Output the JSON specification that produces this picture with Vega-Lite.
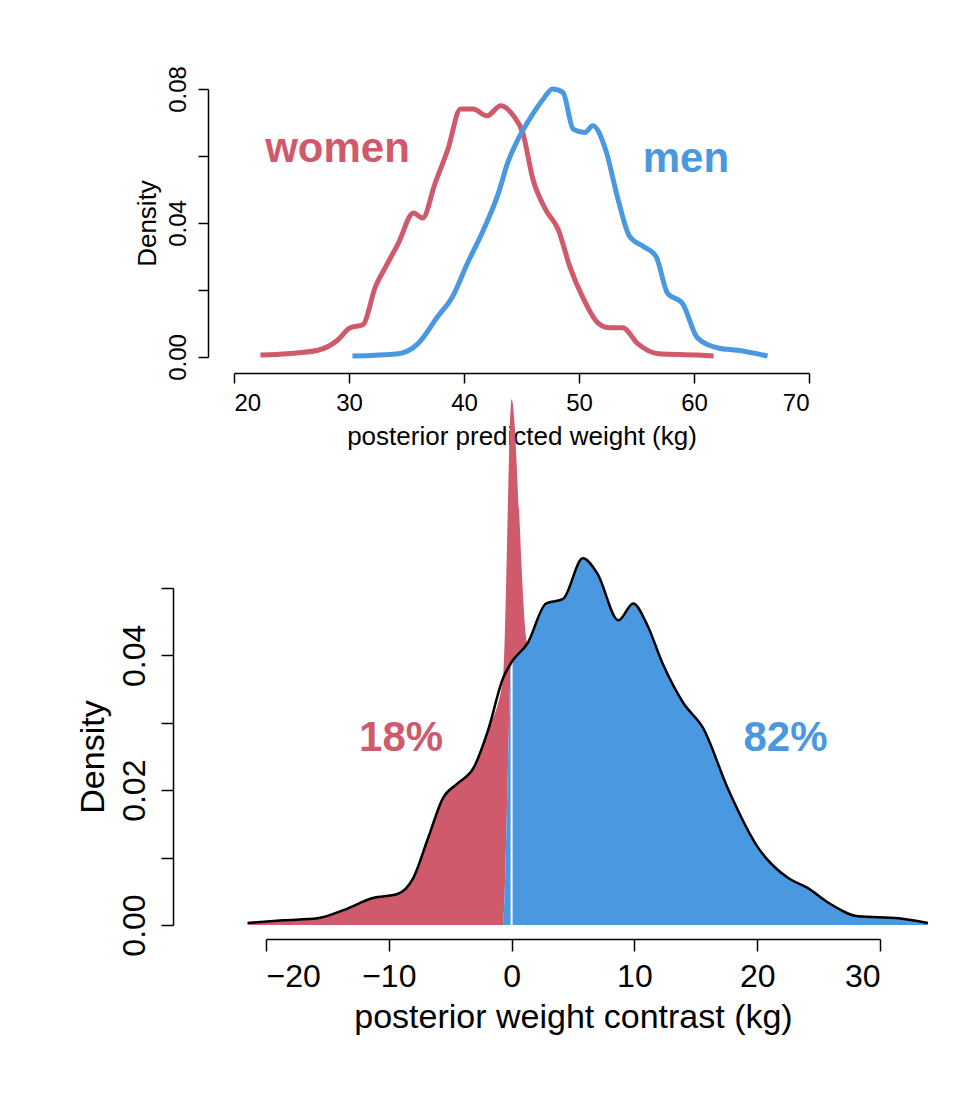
{
  "$schema": "https://vega.github.io/schema/vega-lite/v6.json",
  "padding": {"left": 76, "top": 65, "right": 5, "bottom": 5},
  "background": "white",
  "bounds": "flush",
  "spacing": 231,
  "config": {
    "font": "Liberation Sans",
    "view": {"stroke": null},
    "axis": {"grid": false, "domainColor": "black", "tickColor": "black", "labelColor": "black", "titleColor": "black", "titleFontWeight": "normal", "domainWidth": 1.5, "tickWidth": 1.5}
  },
  "datasets": {
    "top": [
      {"g": "women", "x": 22.3, "y": 0.0006}, {"g": "women", "x": 24.7, "y": 0.001}, {"g": "women", "x": 27.3, "y": 0.002},
      {"g": "women", "x": 29, "y": 0.005}, {"g": "women", "x": 30.1, "y": 0.0087}, {"g": "women", "x": 31.2, "y": 0.0096},
      {"g": "women", "x": 32.3, "y": 0.021}, {"g": "women", "x": 33.2, "y": 0.027}, {"g": "women", "x": 34.3, "y": 0.034},
      {"g": "women", "x": 35.6, "y": 0.043}, {"g": "women", "x": 36.4, "y": 0.0415}, {"g": "women", "x": 37.5, "y": 0.052},
      {"g": "women", "x": 38.6, "y": 0.062}, {"g": "women", "x": 39.7, "y": 0.074}, {"g": "women", "x": 40.8, "y": 0.074},
      {"g": "women", "x": 42, "y": 0.072}, {"g": "women", "x": 43.2, "y": 0.075}, {"g": "women", "x": 44.3, "y": 0.072},
      {"g": "women", "x": 45.1, "y": 0.067}, {"g": "women", "x": 46, "y": 0.053}, {"g": "women", "x": 47.1, "y": 0.044},
      {"g": "women", "x": 48.2, "y": 0.038}, {"g": "women", "x": 49.2, "y": 0.027}, {"g": "women", "x": 50.3, "y": 0.018},
      {"g": "women", "x": 51.7, "y": 0.01}, {"g": "women", "x": 52.7, "y": 0.0087}, {"g": "women", "x": 53.8, "y": 0.0087},
      {"g": "women", "x": 55.1, "y": 0.004}, {"g": "women", "x": 56.9, "y": 0.001}, {"g": "women", "x": 60.3, "y": 0.0006},
      {"g": "women", "x": 61.7, "y": 0.0003},
      {"g": "men", "x": 30.3, "y": 0.0003}, {"g": "men", "x": 34.3, "y": 0.001}, {"g": "men", "x": 36, "y": 0.004},
      {"g": "men", "x": 37.7, "y": 0.012}, {"g": "men", "x": 39, "y": 0.018}, {"g": "men", "x": 40.3, "y": 0.028},
      {"g": "men", "x": 41.7, "y": 0.038}, {"g": "men", "x": 43, "y": 0.049}, {"g": "men", "x": 43.8, "y": 0.058},
      {"g": "men", "x": 44.7, "y": 0.065}, {"g": "men", "x": 45.7, "y": 0.071}, {"g": "men", "x": 46.9, "y": 0.077},
      {"g": "men", "x": 47.7, "y": 0.08}, {"g": "men", "x": 48.6, "y": 0.079}, {"g": "men", "x": 49.5, "y": 0.068},
      {"g": "men", "x": 50.5, "y": 0.067}, {"g": "men", "x": 51.2, "y": 0.069}, {"g": "men", "x": 52.3, "y": 0.062},
      {"g": "men", "x": 53.4, "y": 0.047}, {"g": "men", "x": 54.4, "y": 0.036}, {"g": "men", "x": 55.6, "y": 0.033},
      {"g": "men", "x": 56.7, "y": 0.03}, {"g": "men", "x": 57.7, "y": 0.019}, {"g": "men", "x": 59, "y": 0.016},
      {"g": "men", "x": 60.3, "y": 0.0057}, {"g": "men", "x": 62.1, "y": 0.0027}, {"g": "men", "x": 63.8, "y": 0.002},
      {"g": "men", "x": 66.4, "y": 0.0003}
    ],
    "bottom": [
      {"side": "neg", "x": -21.5, "y": 0.0003}, {"side": "neg", "x": -18.6, "y": 0.0007}, {"side": "neg", "x": -15.8, "y": 0.001},
      {"side": "neg", "x": -13.7, "y": 0.0022}, {"side": "neg", "x": -11.3, "y": 0.004}, {"side": "neg", "x": -9.3, "y": 0.0046},
      {"side": "neg", "x": -8, "y": 0.007}, {"side": "neg", "x": -6.8, "y": 0.0129}, {"side": "neg", "x": -5.6, "y": 0.0188},
      {"side": "neg", "x": -4.4, "y": 0.021}, {"side": "neg", "x": -3.1, "y": 0.0233}, {"side": "neg", "x": -1.9, "y": 0.029},
      {"side": "neg", "x": -0.7, "y": 0.0366}, {"side": "neg", "x": 0, "y": 0.039},
      {"side": "pos", "x": 0, "y": 0.039}, {"side": "pos", "x": 1.3, "y": 0.0418}, {"side": "pos", "x": 2.8, "y": 0.0477},
      {"side": "pos", "x": 4.2, "y": 0.0484}, {"side": "pos", "x": 5.8, "y": 0.0544}, {"side": "pos", "x": 7, "y": 0.0521},
      {"side": "pos", "x": 8.7, "y": 0.0452}, {"side": "pos", "x": 9.9, "y": 0.0477}, {"side": "pos", "x": 11, "y": 0.0447},
      {"side": "pos", "x": 12.3, "y": 0.0388}, {"side": "pos", "x": 14, "y": 0.0329}, {"side": "pos", "x": 15.6, "y": 0.0292},
      {"side": "pos", "x": 17.6, "y": 0.0203}, {"side": "pos", "x": 20.1, "y": 0.0114}, {"side": "pos", "x": 22.5, "y": 0.007},
      {"side": "pos", "x": 24.1, "y": 0.0055}, {"side": "pos", "x": 25.8, "y": 0.0033}, {"side": "pos", "x": 28.2, "y": 0.0013},
      {"side": "pos", "x": 31.5, "y": 0.001}, {"side": "pos", "x": 33.9, "y": 0.0003}
    ],
    "toplabels": [
      {"t": "women", "x": 29, "y": 0.062, "g": "women"},
      {"t": "men", "x": 59.3, "y": 0.059, "g": "men"}
    ],
    "botlabels": [
      {"t": "18%", "x": -9, "y": 0.0277, "side": "neg"},
      {"t": "82%", "x": 22.3, "y": 0.0277, "side": "pos"}
    ]
  },
  "vconcat": [
    {
      "width": 614,
      "height": 268,
      "layer": [
        {
          "data": {"name": "top"},
          "mark": {"type": "line", "strokeWidth": 5, "interpolate": "monotone"},
          "encoding": {
            "x": {"field": "x", "type": "quantitative", "scale": {"domain": [20, 70], "range": [-32, 543], "nice": false},
              "axis": {"values": [20, 30, 40, 50, 60, 70], "title": "posterior predicted weight (kg)", "offset": 16, "labelFontSize": 24, "titleFontSize": 26, "tickSize": 10, "labelPadding": 8, "titlePadding": 8}},
            "y": {"field": "y", "type": "quantitative", "scale": {"domain": [0, 0.08], "nice": false},
              "axis": {"values": [0, 0.02, 0.04, 0.06, 0.08], "labelExpr": "datum.value == 0.02 || datum.value == 0.06 ? '' : format(datum.value, '.2f')", "title": "Density", "offset": 58, "labelAngle": -90, "labelAlign": "center", "labelBaseline": "bottom", "labelFontSize": 24, "titleFontSize": 26, "tickSize": 10, "labelPadding": 8, "titlePadding": 6}},
            "color": {"field": "g", "type": "nominal", "scale": {"domain": ["women", "men"], "range": ["#CF5A6B", "#4A98E0"]}, "legend": null}
          }
        },
        {
          "data": {"name": "toplabels"},
          "mark": {"type": "text", "fontSize": 42, "fontWeight": "bold"},
          "encoding": {
            "x": {"field": "x", "type": "quantitative"},
            "y": {"field": "y", "type": "quantitative"},
            "text": {"field": "t"},
            "color": {"field": "g", "type": "nominal", "legend": null}
          }
        }
      ]
    },
    {
      "width": 614,
      "height": 337,
      "layer": [
        {
          "data": {"name": "bottom"},
          "mark": {"type": "area", "interpolate": "monotone"},
          "encoding": {
            "x": {"field": "x", "type": "quantitative", "scale": {"domain": [-20, 30], "nice": false},
              "axis": {"values": [-20, -10, 0, 10, 20, 30], "title": "posterior weight contrast (kg)", "offset": 14, "labelFontSize": 32, "titleFontSize": 34, "tickSize": 12, "labelPadding": 10, "titlePadding": 8}},
            "y": {"field": "y", "type": "quantitative", "scale": {"domain": [0, 0.05], "nice": false},
              "axis": {"values": [0, 0.01, 0.02, 0.03, 0.04, 0.05], "labelExpr": "datum.value == 0.01 || datum.value == 0.03 || datum.value == 0.05 ? '' : format(datum.value, '.2f')", "title": "Density", "offset": 93, "labelAngle": -90, "labelAlign": "center", "labelBaseline": "bottom", "labelFontSize": 32, "titleFontSize": 34, "tickSize": 12, "labelPadding": 10, "titlePadding": 8}},
            "color": {"field": "side", "type": "nominal", "scale": {"domain": ["neg", "pos"], "range": ["#CF5A6B", "#4A98E0"]}, "legend": null},
            "detail": {"field": "side"}
          }
        },
        {
          "data": {"values": [{"x": 0, "y": 0, "y2": 0.039}]},
          "mark": {"type": "rule", "color": "white", "strokeWidth": 2},
          "encoding": {
            "x": {"field": "x", "type": "quantitative"},
            "y": {"field": "y", "type": "quantitative"},
            "y2": {"field": "y2"}
          }
        },
        {
          "data": {"name": "bottom"},
          "mark": {"type": "line", "interpolate": "monotone", "color": "black", "strokeWidth": 2.5},
          "encoding": {
            "x": {"field": "x", "type": "quantitative"},
            "y": {"field": "y", "type": "quantitative"}
          }
        },
        {
          "data": {"name": "botlabels"},
          "mark": {"type": "text", "fontSize": 42, "fontWeight": "bold"},
          "encoding": {
            "x": {"field": "x", "type": "quantitative"},
            "y": {"field": "y", "type": "quantitative"},
            "text": {"field": "t"},
            "color": {"field": "side", "type": "nominal", "legend": null}
          }
        }
      ]
    }
  ]
}
